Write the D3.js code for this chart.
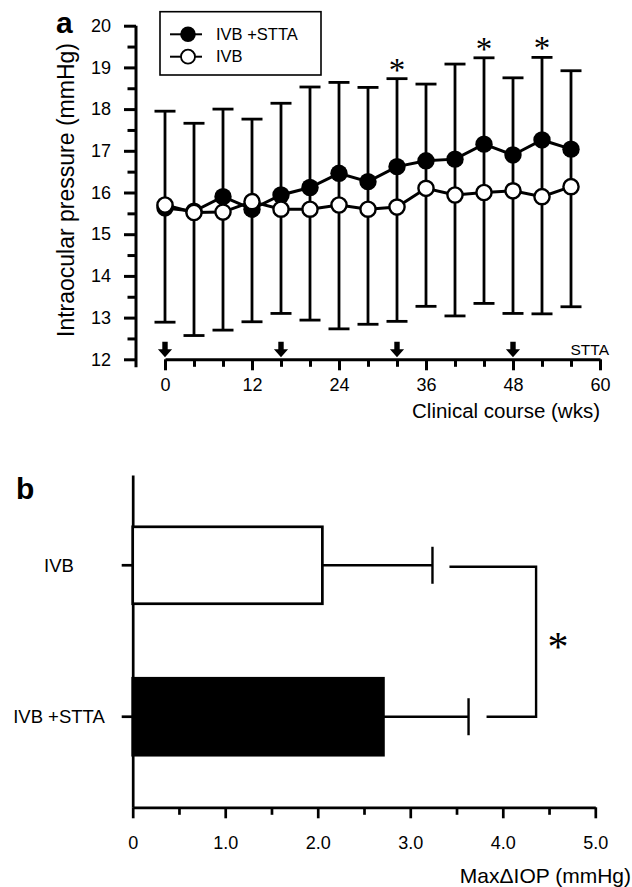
<!DOCTYPE html>
<html>
<head>
<meta charset="utf-8">
<script src="https://cdn.jsdelivr.net/npm/d3@7"></script>
<style>
  body { margin: 0; background: #fff; }
  svg { display: block; font-family: Arial, "Liberation Sans", sans-serif; }
</style>
</head>
<body>
<svg id="chart"></svg>
<script>
// ---- panel a data (weeks, mean IOP, SD) ----
const weeks = [0, 4, 8, 12, 16, 20, 24, 28, 32, 36, 40, 44, 48, 52, 56];
const sttaMean = [15.63, 15.55, 15.9, 15.6, 15.94, 16.12, 16.46, 16.26, 16.62, 16.76, 16.8, 17.16, 16.9, 17.26, 17.04];
const sttaSD = [2.32, 2.11, 2.1, 2.16, 2.2, 2.41, 2.18, 2.26, 2.11, 1.84, 2.28, 2.07, 1.85, 1.98, 1.88];
const ivbMean = [15.7, 15.52, 15.53, 15.78, 15.6, 15.6, 15.7, 15.6, 15.65, 16.1, 15.94, 16.0, 16.04, 15.9, 16.14];
const ivbSD = [2.81, 2.95, 2.83, 2.88, 2.5, 2.66, 2.97, 2.76, 2.74, 2.83, 2.9, 2.66, 2.94, 2.81, 2.88];
const sigWeeks = [32, 44, 52];
const sttaWeeks = [0, 16, 32, 48];
const xTicksA = [0, 12, 24, 36, 48, 60];
const yTicksA = [12, 13, 14, 15, 16, 17, 18, 19, 20];

// ---- panel b data ----
const groups = ["IVB", "IVB +STTA"];
const maxDelta = [2.05, 2.71];
const maxDeltaSD = [1.19, 0.92];
const xTicksB = [0, 1, 2, 3, 4, 5];

const width = 632, height = 887;
const svg = d3.select("#chart").attr("width", width).attr("height", height);

// ================= panel a =================
const a = svg.append("g");
const xA = d3.scaleLinear().domain([0, 60]).range([165, 600]);
const yA = d3.scaleLinear().domain([12, 20]).range([359.3, 25.7]);

// y axis: minor ticks at .5, major with labels
a.append("g")
  .attr("transform", "translate(136,0)")
  .call(d3.axisLeft(yA).tickValues(d3.range(12.5, 20, 1)).tickSize(8.5).tickFormat(""))
  .call(g => g.select(".domain").remove());
a.append("g")
  .attr("class", "yA")
  .attr("transform", "translate(136,0)")
  .call(d3.axisLeft(yA).tickValues(yTicksA).tickSize(12).tickPadding(13).tickSizeOuter(0))
  .call(g => g.select(".domain").remove());
a.append("line")
  .attr("x1", 136).attr("x2", 136)
  .attr("y1", yA(20)).attr("y2", yA(12) + 8);

// x axis
a.append("g")
  .attr("transform", `translate(0,${yA(12)})`)
  .call(d3.axisBottom(xA).tickValues(d3.range(4, 60, 4).filter(d => d % 12)).tickSize(7.5).tickFormat(""))
  .call(g => g.select(".domain").remove());
a.append("g")
  .attr("transform", `translate(0,${yA(12)})`)
  .call(d3.axisBottom(xA).tickValues(xTicksA).tickSize(11).tickPadding(8).tickSizeOuter(0));

svg.selectAll(".tick line, .domain, line").attr("stroke", "#000").attr("stroke-width", 3);
svg.selectAll(".tick text").attr("font-size", 18).attr("fill", "#000").attr("font-family", "Arial, 'Liberation Sans', sans-serif");

// axis titles
a.append("text")
  .attr("transform", "translate(74,190) rotate(-90)")
  .attr("text-anchor", "middle")
  .attr("font-size", 23)
  .text("Intraocular pressure (mmHg)");
a.append("text")
  .attr("x", 600).attr("y", 418)
  .attr("text-anchor", "end")
  .attr("font-size", 20.5)
  .text("Clinical course (wks)");
a.append("text")
  .attr("x", 56).attr("y", 33)
  .attr("font-size", 30).attr("font-weight", "bold")
  .text("a");

// STTA injection arrows
a.selectAll(".arrow")
  .data(sttaWeeks)
  .join("path")
  .attr("class", "arrow")
  .attr("transform", d => `translate(${xA(d)},${yA(12) - 2})`)
  .attr("d", "M-2.7,-15.6h5.4v7.6h4.4l-7.1,8l-7.1,-8h4.4z")
  .attr("fill", "#000");
a.append("text")
  .attr("x", 609).attr("y", 355)
  .attr("text-anchor", "end")
  .attr("font-size", 15.5)
  .text("STTA");

// error bars: upper from IVB+STTA, lower from IVB
const rows = weeks.map((w, i) => ({
  w, s: sttaMean[i], sHi: sttaMean[i] + sttaSD[i],
  v: ivbMean[i], vLo: ivbMean[i] - ivbSD[i]
}));
const eb = a.append("g").attr("stroke", "#000").attr("stroke-width", 2.8);
eb.selectAll(".stem").data(rows).join("line")
  .attr("x1", d => xA(d.w)).attr("x2", d => xA(d.w))
  .attr("y1", d => yA(d.vLo)).attr("y2", d => yA(d.sHi));
eb.selectAll(".capHi").data(rows).join("line")
  .attr("x1", d => xA(d.w) - 10.5).attr("x2", d => xA(d.w) + 10.5)
  .attr("y1", d => yA(d.sHi)).attr("y2", d => yA(d.sHi));
eb.selectAll(".capLo").data(rows).join("line")
  .attr("x1", d => xA(d.w) - 10.5).attr("x2", d => xA(d.w) + 10.5)
  .attr("y1", d => yA(d.vLo)).attr("y2", d => yA(d.vLo));

// lines + markers
const lineS = d3.line().x(d => xA(d.w)).y(d => yA(d.s));
const lineV = d3.line().x(d => xA(d.w)).y(d => yA(d.v));
a.append("path").datum(rows).attr("d", lineS)
  .attr("fill", "none").attr("stroke", "#000").attr("stroke-width", 3);
a.selectAll(".dotS").data(rows).join("circle")
  .attr("cx", d => xA(d.w)).attr("cy", d => yA(d.s)).attr("r", 8.7)
  .attr("fill", "#000");
a.append("path").datum(rows).attr("d", lineV)
  .attr("fill", "none").attr("stroke", "#000").attr("stroke-width", 3);
a.selectAll(".dotV").data(rows).join("circle")
  .attr("cx", d => xA(d.w)).attr("cy", d => yA(d.v)).attr("r", 7.6)
  .attr("fill", "#fff").attr("stroke", "#000").attr("stroke-width", 2.4);

// significance
a.selectAll(".sig").data(rows.filter(d => sigWeeks.includes(d.w))).join("text")
  .attr("x", d => xA(d.w)).attr("y", d => yA(d.sHi) + 2)
  .attr("text-anchor", "middle")
  .attr("font-family", "'Liberation Serif', serif")
  .attr("font-size", 33)
  .text("*");

// legend
const lg = a.append("g");
lg.append("rect").attr("x", 160).attr("y", 11.7).attr("width", 161).attr("height", 63.3)
  .attr("fill", "#fff").attr("stroke", "#000").attr("stroke-width", 1.6);
[["IVB +STTA", "#000", 34.3, 40], ["IVB", "#fff", 56.7, 62]].forEach(([t, f, cy, by]) => {
  lg.append("line").attr("x1", 170).attr("x2", 202).attr("y1", cy).attr("y2", cy)
    .attr("stroke", "#000").attr("stroke-width", 2);
  lg.append("circle").attr("cx", 188).attr("cy", cy).attr("r", f === "#000" ? 7.8 : 7)
    .attr("fill", f).attr("stroke", "#000").attr("stroke-width", f === "#000" ? 0 : 1.8);
  lg.append("text").attr("x", 216).attr("y", by).attr("font-size", 16.5).text(t);
});

// ================= panel b =================
const b = svg.append("g");
const xB = d3.scaleLinear().domain([0, 5]).range([132.7, 595.3]);
const yB = d3.scaleBand().domain(groups).range([475, 807]).paddingInner(0.492).paddingOuter(0.342);

b.append("g")
  .attr("transform", `translate(0,807.3)`)
  .call(d3.axisBottom(xB).tickValues(d3.range(0.5, 5, 1)).tickSize(7.5).tickFormat(""))
  .call(g => g.select(".domain").remove());
b.append("g")
  .attr("transform", `translate(0,807.3)`)
  .call(d3.axisBottom(xB).tickValues(xTicksB).tickSize(11).tickPadding(18).tickSizeOuter(0)
    .tickFormat(d => d === 0 ? "0" : d3.format(".1f")(d)));
b.append("g")
  .attr("class", "yB")
  .attr("transform", "translate(132.7,0)")
  .call(d3.axisLeft(yB).tickSize(11).tickSizeOuter(0).tickFormat(""));
b.selectAll(".tick line, .domain").attr("stroke", "#000").attr("stroke-width", 2.7);
b.selectAll(".tick text").attr("font-size", 18).attr("fill", "#000").attr("font-family", "Arial, 'Liberation Sans', sans-serif");

// category labels, centred
b.selectAll(".cat").data(groups).join("text")
  .attr("x", 59).attr("y", d => yB(d) + yB.bandwidth() / 2 + 6.5)
  .attr("text-anchor", "middle")
  .attr("font-size", 18.5)
  .text(d => d);

// bars
b.selectAll(".bar").data(groups).join("rect")
  .attr("x", xB(0)).attr("y", d => yB(d))
  .attr("width", (d, i) => xB(maxDelta[i]) - xB(0))
  .attr("height", yB.bandwidth())
  .attr("fill", (d, i) => i === 0 ? "#fff" : "#000")
  .attr("stroke", "#000").attr("stroke-width", 2.7);

// error bars
groups.forEach((g, i) => {
  const cy = yB(g) + yB.bandwidth() / 2;
  const hi = xB(maxDelta[i] + maxDeltaSD[i]);
  b.append("line").attr("x1", xB(maxDelta[i])).attr("x2", hi).attr("y1", cy).attr("y2", cy)
    .attr("stroke", "#000").attr("stroke-width", 2.4);
  b.append("line").attr("x1", hi).attr("x2", hi).attr("y1", cy - 18.5).attr("y2", cy + 18.5)
    .attr("stroke", "#000").attr("stroke-width", 2.4);
});

// significance bracket
const c0 = yB(groups[0]) + yB.bandwidth() / 2 + 1.5;
const c1 = yB(groups[1]) + yB.bandwidth() / 2;
const bx = xB(4.36);
b.append("path")
  .attr("d", `M${xB(maxDelta[0] + maxDeltaSD[0]) + 17},${c0}H${bx}V${c1}H${xB(maxDelta[1] + maxDeltaSD[1]) + 18}`)
  .attr("fill", "none").attr("stroke", "#000").attr("stroke-width", 2.4);
b.append("text")
  .attr("x", 558).attr("y", 661)
  .attr("text-anchor", "middle")
  .attr("font-family", "'Liberation Serif', serif")
  .attr("font-size", 42)
  .text("*");

b.append("text")
  .attr("x", 631).attr("y", 882.5)
  .attr("text-anchor", "end")
  .attr("font-size", 21)
  .text("Max\u0394IOP (mmHg)");
b.append("text")
  .attr("x", 16).attr("y", 499)
  .attr("font-size", 30).attr("font-weight", "bold")
  .text("b");
</script>
</body>
</html>
